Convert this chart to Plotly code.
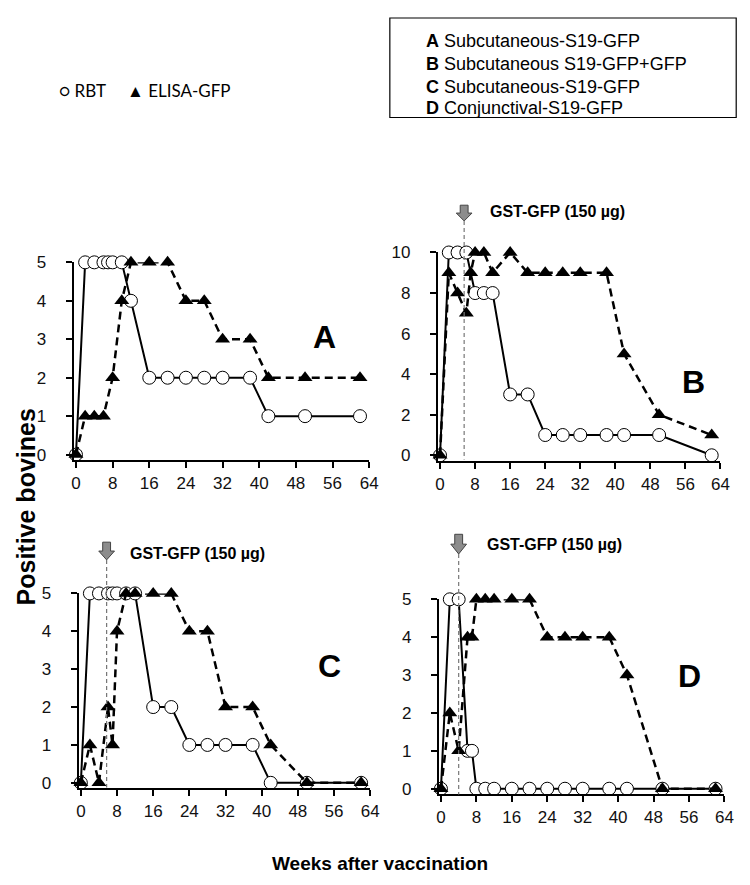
import plotly.graph_objects as go

W, H = 750, 885
OFF = 8  # page offset of the plot div (default body margin)

# ---- data (weeks after vaccination / positive bovines) ----
a_rbt_x = [0, 2, 4, 6, 7, 8, 10, 12, 16, 20, 24, 28, 32, 38, 42, 50, 62]
a_rbt_y = [0, 5, 5, 5, 5, 5, 5, 4, 2, 2, 2, 2, 2, 2, 1, 1, 1]
a_elisa_x = [0, 2, 4, 6, 8, 10, 12, 16, 20, 24, 28, 32, 38, 42, 50, 62]
a_elisa_y = [0, 1, 1, 1, 2, 4, 5, 5, 5, 4, 4, 3, 3, 2, 2, 2]

b_rbt_x = [0, 2, 4, 6, 8, 10, 12, 16, 20, 24, 28, 32, 38, 42, 50, 62]
b_rbt_y = [0, 10, 10, 10, 8, 8, 8, 3, 3, 1, 1, 1, 1, 1, 1, 0]
b_elisa_x = [0, 2, 4, 6, 7, 8, 10, 12, 16, 20, 24, 28, 32, 38, 42, 50, 62]
b_elisa_y = [0, 9, 8, 7, 9, 10, 10, 9, 10, 9, 9, 9, 9, 9, 5, 2, 1]

c_rbt_x = [0, 2, 4, 6, 7, 8, 10, 12, 16, 20, 24, 28, 32, 38, 42, 50, 62]
c_rbt_y = [0, 5, 5, 5, 5, 5, 5, 5, 2, 2, 1, 1, 1, 1, 0, 0, 0]
c_elisa_x = [0, 2, 4, 6, 7, 8, 10, 12, 16, 20, 24, 28, 32, 38, 42, 50, 62]
c_elisa_y = [0, 1, 0, 2, 1, 4, 5, 5, 5, 5, 4, 4, 2, 2, 1, 0, 0]

d_rbt_x = [0, 2, 4, 6, 7, 8, 10, 12, 16, 20, 24, 28, 32, 38, 42, 50, 62]
d_rbt_y = [0, 5, 5, 1, 1, 0, 0, 0, 0, 0, 0, 0, 0, 0, 0, 0, 0]
d_elisa_x = [0, 2, 4, 6, 7, 8, 10, 12, 16, 20, 24, 28, 32, 38, 42, 50, 62]
d_elisa_y = [0, 2, 1, 4, 4, 5, 5, 5, 5, 5, 4, 4, 4, 4, 3, 0, 0]

x_ticks = [0, 8, 16, 24, 32, 40, 48, 56, 64]
boost_week = {"b": 5.5, "c": 5.7, "d": 4}

groups = [
    ("A", "Subcutaneous-S19-GFP"),
    ("B", "Subcutaneous S19-GFP+GFP"),
    ("C", "Subcutaneous-S19-GFP"),
    ("D", "Conjunctival-S19-GFP"),
]

FONT = "Liberation Sans, Arial, sans-serif"


def fx(px):
    return (px - OFF) / W


def fy(py):
    return 1 - (py - OFF) / H


def note(text, px, py, size, xanchor="center", family=FONT, **kw):
    return dict(text=text, x=fx(px), y=fy(py), xref="paper", yref="paper",
                xanchor=xanchor, yanchor="middle", showarrow=False,
                font=dict(family=family, size=size, color="black"), **kw)


# panel boxes in page pixels: left, right, top, bottom
panels = {
    "a": dict(box=(71.7, 372, 257, 458), yr=[-0.15, 5], yt=[0, 1, 2, 3, 4, 5]),
    "b": dict(box=(441.8, 729, 247, 459), yr=[-0.3, 10], yt=[0, 2, 4, 6, 8, 10]),
    "c": dict(box=(76.7, 373, 593, 791), yr=[-0.15, 5], yt=[0, 1, 2, 3, 4, 5]),
    "d": dict(box=(442.7, 733, 599, 797), yr=[-0.15, 5], yt=[0, 1, 2, 3, 4, 5]),
}
series = {
    "a": (a_rbt_x, a_rbt_y, a_elisa_x, a_elisa_y),
    "b": (b_rbt_x, b_rbt_y, b_elisa_x, b_elisa_y),
    "c": (c_rbt_x, c_rbt_y, c_elisa_x, c_elisa_y),
    "d": (d_rbt_x, d_rbt_y, d_elisa_x, d_elisa_y),
}

fig = go.Figure()
layout = {}

for i, key in enumerate(["a", "b", "c", "d"], start=1):
    sfx = "" if i == 1 else str(i)
    rx, ry, ex, ey = series[key]
    fig.add_trace(go.Scatter(
        x=rx, y=ry, mode="lines+markers", xaxis="x" + sfx, yaxis="y" + sfx,
        line=dict(color="black", width=2),
        marker=dict(symbol="circle", size=13, color="white",
                    line=dict(color="black", width=1)),
        cliponaxis=False, showlegend=False, name="RBT"
    ))
    fig.add_trace(go.Scatter(
        x=ex, y=ey, mode="lines+markers", xaxis="x" + sfx, yaxis="y" + sfx,
        line=dict(color="black", width=2.5, dash="8px,5px"),
        marker=dict(symbol="triangle-up", size=13, color="black"),
        cliponaxis=False, showlegend=False, name="ELISA-GFP"
    ))
    l, r, t, b = panels[key]["box"]
    layout["xaxis" + sfx] = dict(
        domain=[fx(l), fx(r)], anchor="y" + sfx, range=[-0.5, 64],
        tickvals=x_ticks, ticks="outside", ticklen=6, tickwidth=1.5,
        tickcolor="black", showline=True, linecolor="black", linewidth=2,
        showgrid=False, zeroline=False, ticklabelstandoff=0,
        tickfont=dict(family=FONT, size=17, color="#111")
    )
    layout["yaxis" + sfx] = dict(
        domain=[fy(b), fy(t)], anchor="x" + sfx, range=panels[key]["yr"],
        tickvals=panels[key]["yt"], ticks="outside", ticklen=6, tickwidth=1.5,
        tickcolor="black", showline=True, linecolor="black", linewidth=2,
        showgrid=False, zeroline=False, ticklabelstandoff=16,
        tickfont=dict(family=FONT, size=17, color="#111")
    )

fig.update_layout(**layout)

shapes = []
annotations = []

# panel letters
for txt, px, py in [("A", 327, 333), ("B", 702, 378), ("C", 332, 667), ("D", 698, 677)]:
    annotations.append(note("<b>%s</b>" % txt, px, py, 32))

# booster arrows + dashed lines + labels
boost = [
    ("b", "x2", 199, 215, 457, 493, 205),
    ("c", "x3", 541, 559, 790, 127, 552),
    ("d", "x4", 533, 553, 797, 490, 543),
]
for key, xr, top, bot, axis_b, tx, ty in boost:
    wk = boost_week[key]
    l, r, _, _ = panels[key]["box"]
    ppw = (r - l) / 64.5
    hw_shaft = 4 / ppw
    hw_head = 8 / ppw
    mid = top + (bot - top) * 0.5
    path = "M {a},{y0} L {b},{y0} L {b},{y1} L {c},{y1} L {w},{y2} L {d},{y1} L {e},{y1} Z".format(
        a=wk - hw_shaft, b=wk + hw_shaft, c=wk + hw_head, d=wk - hw_head,
        e=wk - hw_shaft, w=wk, y0=fy(top), y1=fy(mid), y2=fy(bot)
    )
    shapes.append(dict(type="line", xref=xr, yref="paper", x0=wk, x1=wk,
                       y0=fy(bot), y1=fy(axis_b),
                       line=dict(color="#777", width=1.2, dash="4px,3px")))
    shapes.append(dict(type="path", xref=xr, yref="paper", path=path,
                       fillcolor="#8c8c8c", line=dict(color="#444", width=1)))
    annotations.append(note("<b>GST-GFP (150 µg)</b>", tx, ty, 16, xanchor="left"))

# axis titles
annotations.append(note("<b>Positive bovines</b>", 23, 505, 25, textangle=-90))
annotations.append(note("<b>Weeks after vaccination</b>", 383, 867, 19))

# marker key
annotations.append(note("○ RBT", 55, 83, 17, xanchor="left", family="Lato, sans-serif"))
annotations.append(note("▲ ELISA-GFP", 124, 83, 17, xanchor="left", family="Lato, sans-serif"))

# group key box
shapes.append(dict(type="rect", xref="paper", yref="paper",
                   x0=fx(393), x1=fx(745), y0=fy(110), y1=fy(9),
                   line=dict(color="black", width=1.2)))
for (letter, label), py in zip(groups, [32, 56, 79, 100]):
    annotations.append(note("<b>%s</b>" % letter, 428, py, 18, xanchor="left"))
    annotations.append(note(label, 446, py, 18, xanchor="left"))

fig.update_layout(
    width=W, height=H,
    margin=dict(l=0, r=0, t=0, b=0),
    paper_bgcolor="white", plot_bgcolor="white",
    shapes=shapes, annotations=annotations,
)

fig.write_html("out.html")
